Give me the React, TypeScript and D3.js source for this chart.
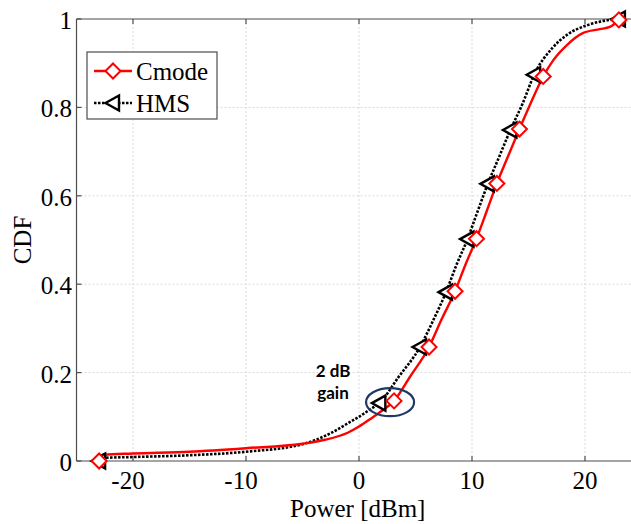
import React, { useEffect, useRef } from 'react';
import * as d3 from 'd3';

// Cmode curve (red, solid)
const cmodeX = [-23, -22.6, -20, -15, -10, -5, -3, -1, 0, 1, 2, 3.1, 4.5, 6.2, 7.3, 8.5, 9.4, 10.4, 11.3, 12.2, 13.2, 14.2, 15.2, 16.3, 17.2, 18.4, 19.8, 21.3, 22.2, 23];
const cmodeY = [0, 0.014, 0.017, 0.021, 0.029, 0.039, 0.048, 0.064, 0.078, 0.095, 0.113, 0.136, 0.19, 0.258, 0.32, 0.384, 0.443, 0.503, 0.565, 0.628, 0.69, 0.751, 0.81, 0.87, 0.907, 0.941, 0.968, 0.977, 0.982, 0.998];
const cmodeMarkX = [-23, 3.1, 6.2, 8.5, 10.4, 12.2, 14.2, 16.3, 23];
const cmodeMarkY = [0, 0.136, 0.258, 0.384, 0.503, 0.628, 0.751, 0.87, 0.998];

// HMS curve (black, dotted)
const hmsX = [-23, -22.6, -20, -15, -10, -5, -2.5, -1, 0, 1, 1.8, 3.5, 5.4, 6.6, 7.7, 8.6, 9.6, 10.5, 11.4, 12.4, 13.4, 14.5, 15.5, 17.1, 18.4, 20.2, 21.5, 23];
const hmsY = [0, 0.007, 0.009, 0.013, 0.021, 0.038, 0.063, 0.085, 0.1, 0.117, 0.131, 0.19, 0.258, 0.32, 0.382, 0.442, 0.502, 0.565, 0.627, 0.688, 0.749, 0.81, 0.874, 0.934, 0.964, 0.986, 0.995, 1.0];
const hmsMarkX = [-23, 1.8, 5.4, 7.7, 9.6, 11.4, 13.4, 15.5, 23];
const hmsMarkY = [0, 0.131, 0.258, 0.382, 0.502, 0.627, 0.749, 0.874, 1.0];

const xTicks = [-20, -10, 0, 10, 20];
const yTicks = [0, 0.2, 0.4, 0.6, 0.8, 1];
const seriesNames = ['Cmode', 'HMS'];

// "2 dB gain" annotation, in data units
const gainCenter = [2.75, 0.133];
const gainLabel = ['2 dB', 'gain'];

const W = 631;
const H = 524;

function diamond(cx, cy, r) {
  return `M${cx},${cy - r}L${cx + r},${cy}L${cx},${cy + r}L${cx - r},${cy}Z`;
}
function triLeft(cx, cy, r) {
  return `M${cx - r},${cy}L${cx + r * 0.8},${cy - r}L${cx + r * 0.8},${cy + r}Z`;
}

export default function App() {
  const ref = useRef(null);

  useEffect(() => {
    const svg = d3.select(ref.current);
    svg.selectAll('*').remove();

    const x = d3.scaleLinear().domain([-25, 25]).range([76.5, 641.5]);
    const y = d3.scaleLinear().domain([0, 1]).range([461, 19]);
    const serif = 'Liberation Serif';

    // grid
    const grid = svg.append('g');
    grid.selectAll('.gx').data(xTicks).enter().append('line')
      .attr('x1', d => x(d)).attr('x2', d => x(d))
      .attr('y1', y(0)).attr('y2', y(1))
      .attr('stroke', '#dadada').attr('stroke-dasharray', '2,2').attr('stroke-width', 1);
    grid.selectAll('.gy').data(yTicks.slice(1, -1)).enter().append('line')
      .attr('x1', x(-25)).attr('x2', W)
      .attr('y1', d => y(d)).attr('y2', d => y(d))
      .attr('stroke', '#dadada').attr('stroke-dasharray', '2,2').attr('stroke-width', 1);

    // axes box (right side is outside the picture)
    const ax = svg.append('g').attr('stroke', '#4d4d4d').attr('stroke-width', 1.2);
    ax.append('line').attr('x1', x(-25)).attr('x2', W).attr('y1', y(0)).attr('y2', y(0));
    ax.append('line').attr('x1', x(-25)).attr('x2', W).attr('y1', y(1)).attr('y2', y(1));
    ax.append('line').attr('x1', x(-25)).attr('x2', x(-25)).attr('y1', y(0)).attr('y2', y(1));
    xTicks.forEach(t => {
      ax.append('line').attr('x1', x(t)).attr('x2', x(t)).attr('y1', y(0)).attr('y2', y(0) - 5);
      ax.append('line').attr('x1', x(t)).attr('x2', x(t)).attr('y1', y(1)).attr('y2', y(1) + 5);
    });
    yTicks.forEach(t => {
      ax.append('line').attr('x1', x(-25)).attr('x2', x(-25) + 5).attr('y1', y(t)).attr('y2', y(t));
    });

    // tick labels
    svg.append('g').selectAll('text').data(xTicks).enter().append('text')
      .attr('x', d => x(d) - (d < 0 ? 5 : 0)).attr('y', 489)
      .attr('text-anchor', 'middle').attr('font-family', serif).attr('font-size', 25)
      .text(d => String(d));
    svg.append('g').selectAll('text').data(yTicks).enter().append('text')
      .attr('x', 72).attr('y', d => y(d) + 10)
      .attr('text-anchor', 'end').attr('font-family', serif).attr('font-size', 25)
      .text(d => String(d));

    svg.append('text').attr('x', 290).attr('y', 517)
      .attr('font-family', serif).attr('font-size', 25)
      .text('Power [dBm]');
    svg.append('text').attr('transform', 'translate(31,240) rotate(-90)')
      .attr('text-anchor', 'middle').attr('font-family', serif).attr('font-size', 25)
      .text('CDF');

    // curves
    const line = d3.line().curve(d3.curveMonotoneX).x(d => x(d[0])).y(d => y(d[1]));
    const hmsPts = hmsX.map((v, i) => [v, hmsY[i]]);
    const cmodePts = cmodeX.map((v, i) => [v, cmodeY[i]]);

    svg.append('path').datum(hmsPts).attr('d', line)
      .attr('fill', 'none').attr('stroke', '#000').attr('stroke-width', 2.6)
      .attr('stroke-dasharray', '2.5,1.5');
    svg.append('path').datum(cmodePts).attr('d', line)
      .attr('fill', 'none').attr('stroke', '#ff0000').attr('stroke-width', 2.4);

    // markers
    svg.append('g').selectAll('path').data(hmsMarkX).enter().append('path')
      .attr('d', (d, i) => triLeft(x(d), y(hmsMarkY[i]), 7.5))
      .attr('fill', '#fff').attr('stroke', '#000').attr('stroke-width', 2.4)
      .attr('stroke-linejoin', 'miter');
    svg.append('g').selectAll('path').data(cmodeMarkX).enter().append('path')
      .attr('d', (d, i) => diamond(x(d), y(cmodeMarkY[i]), 7.5))
      .attr('fill', '#fff').attr('stroke', '#ff0000').attr('stroke-width', 2);

    // annotation
    svg.append('ellipse')
      .attr('cx', x(gainCenter[0])).attr('cy', y(gainCenter[1]))
      .attr('rx', 24).attr('ry', 14)
      .attr('fill', 'none').attr('stroke', '#1f3864').attr('stroke-width', 2.2);
    svg.append('g').selectAll('text').data(gainLabel).enter().append('text')
      .attr('x', 333).attr('y', (d, i) => 377 + i * 22)
      .attr('text-anchor', 'middle').attr('font-family', 'Lato, "Open Sans", sans-serif')
      .attr('font-weight', 'bold').attr('font-size', 17)
      .text(d => d);

    // legend
    const lg = svg.append('g');
    lg.append('rect').attr('x', 87).attr('y', 52).attr('width', 130).attr('height', 67)
      .attr('fill', '#fff').attr('stroke', '#4d4d4d').attr('stroke-width', 1.2);
    seriesNames.forEach((name, i) => {
      const cy = 71 + i * 32;
      if (i === 0) {
        lg.append('line').attr('x1', 94).attr('x2', 132).attr('y1', cy).attr('y2', cy)
          .attr('stroke', '#ff0000').attr('stroke-width', 2.4);
        lg.append('path').attr('d', diamond(113, cy, 7.5))
          .attr('fill', '#fff').attr('stroke', '#ff0000').attr('stroke-width', 2);
      } else {
        lg.append('line').attr('x1', 94).attr('x2', 132).attr('y1', cy).attr('y2', cy)
          .attr('stroke', '#000').attr('stroke-width', 2.6).attr('stroke-dasharray', '2.5,1.5');
        lg.append('path').attr('d', triLeft(113, cy, 7.5))
          .attr('fill', '#fff').attr('stroke', '#000').attr('stroke-width', 2.4);
      }
      lg.append('text').attr('x', 136).attr('y', cy + 9)
        .attr('font-family', serif).attr('font-size', 25)
        .text(name);
    });
  }, []);

  return (
    <svg
      ref={ref}
      width={W}
      height={H}
      style={{ position: 'absolute', left: 0, top: 0, background: '#fff' }}
    />
  );
}
